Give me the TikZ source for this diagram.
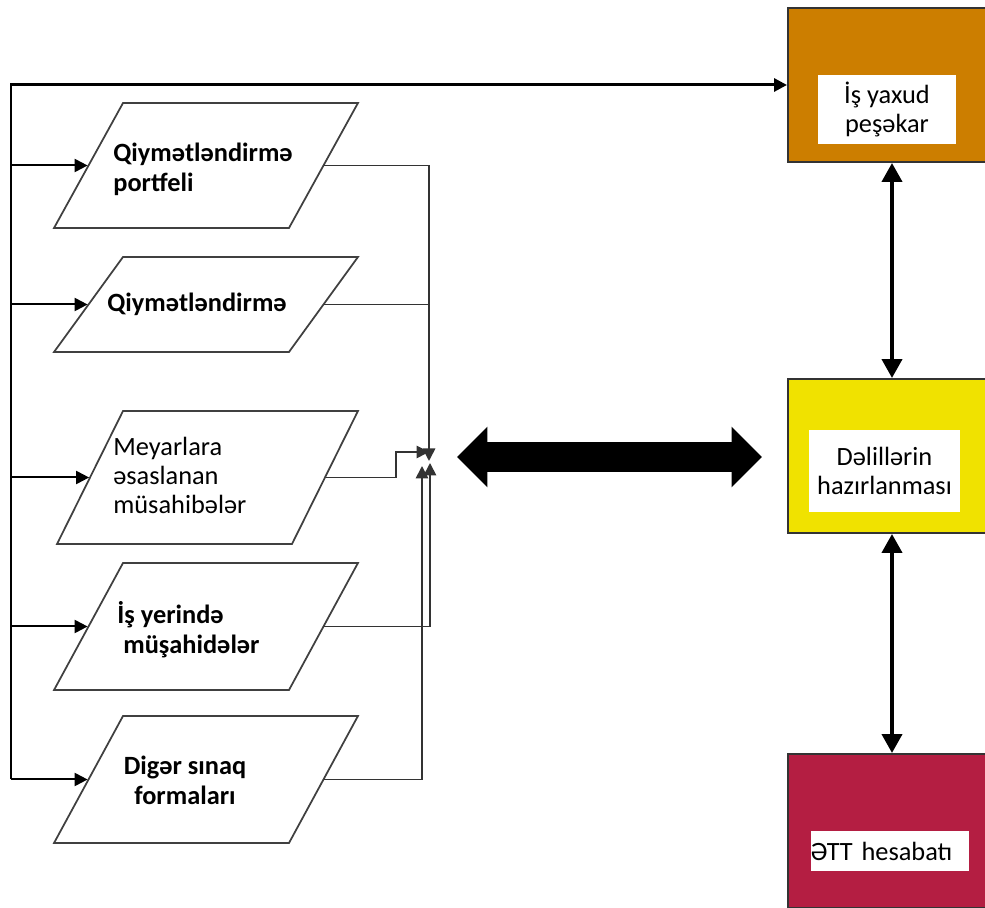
\documentclass[tikz,border=0pt]{standalone}
\usepackage{fontspec}
\setmainfont{Carlito}
\usetikzlibrary{arrows.meta,shapes.arrows}

\definecolor{jobcol}{RGB}{204,126,0}
\definecolor{prepcol}{RGB}{240,226,0}
\definecolor{repcol}{RGB}{180,30,66}

\tikzset{
  form/.style={draw=black!75, line width=0.035cm, minimum width=4.7cm, inner sep=0pt, transform shape},
  formtxt/.style={anchor=west, align=left, inner sep=0pt, font=\fontsize{15}{17}\selectfont\bfseries},
  block/.style={draw=black!80, line width=0.04cm, minimum width=4cm, minimum height=3.08cm},
  plate/.style={fill=white, inner sep=0pt, align=center, font=\fontsize{15}{17}\selectfont},
  feed/.style={line width=0.04cm, -{Triangle[length=0.26cm,width=0.26cm]}},
  merge/.style={line width=0.035cm, draw=black!80, -{Triangle[length=0.25cm,width=0.25cm]}},
  link/.style={line width=0.08cm, {Triangle[length=0.38cm,width=0.4cm]}-{Triangle[length=0.38cm,width=0.4cm]}},
}

\begin{document}
\begin{tikzpicture}[x=0.02cm,y=-0.02cm]
    \useasboundingbox (0,0) rectangle (985,908);
    \clip (0,0) rectangle (985,908);

    % the five forms of assessment
    \node[form, xslant=0.552, minimum height=2.5cm] (q1) at (206,165.5) {};
    \node[form, xslant=0.726, minimum height=1.9cm] (q2) at (206,304.5) {};
    \node[form, xslant=0.496, minimum height=2.66cm] (q3) at (207.5,477.5) {};
    \node[form, xslant=0.543, minimum height=2.54cm] (q4) at (206,626.5) {};
    \node[form, xslant=0.543, minimum height=2.54cm] (q5) at (206,779.5) {};

    \node[formtxt] (q1t) at (113,169) {Qiymətləndirmə\\portfeli};
    \node[formtxt] (q2t) at (107,304) {Qiymətləndirmə};
    \node[formtxt, font=\fontsize{15}{16.5}\selectfont] (q3t) at (113,475) {Meyarlara\\əsaslanan\\müsahibələr};
    \node[formtxt] (q4t) at (117,630) {İş yerində\\\hspace*{0.12cm}müşahidələr};
    \node[formtxt, anchor=center, align=center] (q5t) at (185,780) {Digər sınaq\\formaları};

    % the three stages
    \node[block, fill=jobcol] (job) at (888,85) {};
    \node[block, fill=prepcol] (prep) at (888,456) {};
    \node[block, fill=repcol] (rep) at (888,831) {};
    \node[plate, minimum width=2.76cm, minimum height=1.38cm] (jobt) at (887,109.5) {İş yaxud\\peşəkar};
    \node[plate, minimum width=3.02cm, minimum height=1.64cm] (prept) at (884.5,471) {Dəlillərin\\hazırlanması};
    \node[plate, text width=3.18cm, align=left, minimum height=0.8cm] (rept) at (890,851) {ƏTT hesabatı};

    % feeds from the left
    \coordinate (bus) at (11,85);
    \draw[line width=0.06cm, -{Triangle[length=0.26cm,width=0.26cm]}] (q5.west -| bus) |- (job.west);
    \foreach \n in {q1,q2,q3,q4,q5}
        \draw[feed] (\n.west -| bus) -- (\n.west);

    % outputs into the junction
    \coordinate (jtop) at (429,461);
    \coordinate (jmid) at (429,452);
    \coordinate (jlow) at (430,463);
    \coordinate (jend) at (422,466);
    \draw[merge] (q1.east) -| (jtop);
    \draw[line width=0.035cm, draw=black!80] (q2.east) -- (q2.east -| jtop);
    \draw[merge] (q3.east) -- ++(70,0) |- (jmid);
    \draw[merge] (q4.east) -| (jlow);
    \draw[merge] (q5.east) -| (jend);

    \node[double arrow, fill=black, minimum height=6.1cm, minimum width=1.2cm,
        double arrow head extend=0.31cm, inner xsep=0pt, inner ysep=0.29cm] (swap) at (609.5,457) {};

    \draw[link] ([xshift=0.08cm]job.south) -- ([xshift=0.08cm]prep.north);
    \draw[link] ([xshift=0.08cm]prep.south) -- ([xshift=0.08cm]rep.north);
\end{tikzpicture}
\end{document}
